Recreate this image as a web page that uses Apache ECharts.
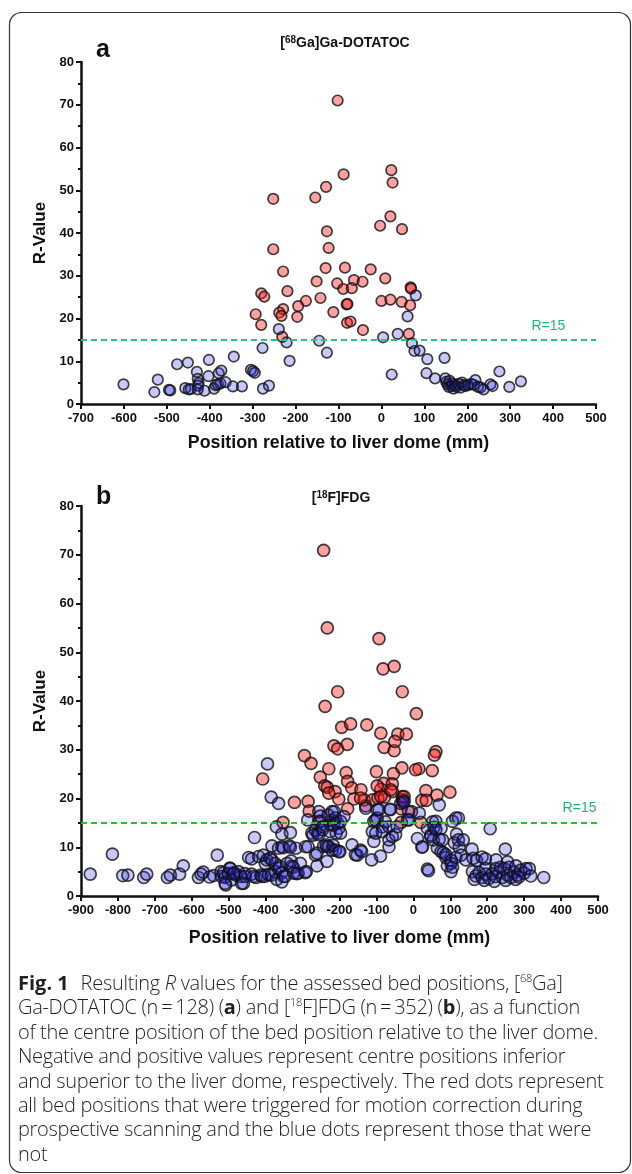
<!DOCTYPE html>
<html><head><meta charset="utf-8">
<script src="https://cdn.jsdelivr.net/npm/echarts@6/dist/echarts.min.js"></script>
<style>
html,body{margin:0;padding:0;background:#fff;}
#chart{width:632px;height:1174px;position:absolute;left:0;top:0;}
#cap{position:absolute;left:18px;top:971px;font-family:'Open Sans',sans-serif;font-size:20px;font-weight:300;line-height:24.4px;color:#231f20;letter-spacing:-0.3px;white-space:nowrap;}
#cap sup{font-size:11px;vertical-align:top;line-height:1;position:relative;top:1px}
#cap b{font-weight:700}
#cap b.fig{letter-spacing:0;margin-right:7px}
</style></head><body>
<div id="chart"></div>
<div id="cap"><b class="fig">Fig. 1</b> Resulting <i>R</i> values for the assessed bed positions, [<sup>68</sup>Ga]<br>Ga-DOTATOC (n&#8201;=&#8201;128) (<b>a</b>) and [<sup>18</sup>F]FDG (n&#8201;=&#8201;352) (<b>b</b>), as a function<br>of the centre position of the bed position relative to the liver dome.<br>Negative and positive values represent centre positions inferior<br>and superior to the liver dome, respectively. The red dots represent<br>all bed positions that were triggered for motion correction during<br>prospective scanning and the blue dots represent those that were<br>not</div>
<script>
// ---------- data ----------
const threshold = 15;
const yTicks = [0, 10, 20, 30, 40, 50, 60, 70, 80];
const xRangeA = [-700, 500];
const xRangeB = [-900, 500];

// Panel a: [68Ga]Ga-DOTATOC  [position (mm), R-value]
const aRed = [[-102,71.0],[-88,53.7],[23,54.7],[26,51.8],[-129,50.8],[-154,48.3],[-252,48.0],[21,43.9],[-3,41.7],[48,40.9],
[-127,40.4],[-123,36.5],[-252,36.2],[-229,31.0],[-130,31.8],[-85,31.9],[-25,31.5],[9,29.4],[-151,28.7],[-103,28.2],
[-64,29.0],[-44,28.6],[-89,26.9],[-69,27.1],[68,27.3],[69,27.0],[-280,25.9],[-273,25.1],[-219,26.4],[-176,24.1],
[-194,22.9],[-142,24.8],[-81,23.3],[-79,23.4],[0,24.1],[21,24.4],[47,23.9],[67,23.1],[-229,22.2],[-238,21.4],
[-233,20.6],[-293,21.0],[-196,20.4],[-112,21.5],[-280,18.5],[-80,19.0],[-72,19.3],[-43,17.3],[-231,15.7],[64,16.4]];
const aBlue = [[-601,4.6],[-529,2.8],[-521,5.7],[-495,3.3],[-492,3.2],[-476,9.3],[-451,9.7],[-457,3.7],[-449,3.4],[-444,3.5],
[-430,7.5],[-428,5.9],[-426,4.9],[-427,4.3],[-428,3.4],[-412,3.1],[-402,10.3],[-403,6.5],[-390,3.6],[-386,4.4],
[-381,4.6],[-379,7.2],[-373,7.8],[-375,4.8],[-363,5.1],[-344,11.1],[-346,4.1],[-325,4.1],[-304,8.0],[-299,7.7],
[-295,7.3],[-277,13.1],[-276,3.6],[-262,4.3],[-239,17.5],[-221,14.4],[-214,10.1],[-145,14.8],[-127,12.0],
[4,15.6],[38,16.4],[24,6.9],[80,25.4],[61,20.5],[71,14.2],[77,12.4],[89,12.5],[107,10.5],[105,7.2],
[125,6.0],[147,10.8],[149,6.0],[151,5.2],[154,4.6],[157,4.0],[159,5.4],[163,4.2],[165,4.8],[168,3.6],[171,4.4],
[175,4.0],[180,4.7],[184,3.8],[188,5.0],[192,4.4],[196,4.2],[202,4.4],[209,4.7],[215,4.5],[219,5.6],
[225,4.0],[231,3.9],[238,3.4],[254,4.6],[259,4.2],[275,7.6],[298,4.0],[325,5.3]];

// Panel b: [18F]FDG  [position (mm), R-value]
const bRed = [[-243,70.9],[-233,55.0],[-93,52.8],[-82,46.6],[-52,47.1],[-205,41.9],[-30,41.9],[-239,38.9],[8,37.4],[-194,34.6],
[-170,35.3],[-126,35.1],[-88,33.4],[-42,33.2],[-19,33.2],[-215,30.8],[-205,30.2],[-179,31.1],[-79,30.5],[-52,29.8],
[-50,31.7],[61,29.6],[57,28.9],[-295,28.8],[-277,27.2],[-408,24.0],[-229,26.1],[-182,25.3],[-178,23.5],[-252,24.4],
[-100,25.5],[-54,25.1],[-31,26.3],[15,26.1],[51,25.7],[-240,22.6],[-233,22.3],[-167,22.2],[-142,21.8],[-80,23.1],
[-57,23.0],[-88,21.9],[-57,21.4],[34,21.6],[64,20.7],[99,21.3],[-212,21.4],[-202,19.9],[-161,19.9],[-133,19.7],
[-110,19.7],[-96,20.1],[-78,20.3],[-30,20.4],[23,19.6],[35,19.6],[-322,19.2],[-285,19.4],[-282,17.4],[-178,17.9],
[-129,18.5],[-33,17.9],[-29,19.7],[-5,17.3],[-353,15.1],[-256,15.3],[-219,15.5],[-33,15.1],[20,15.1],[-98,22.6],
[6,25.9],[-88,20.4],[-25,20.4],[-143,20.1],[-61,21.8],[-229,21.1]];
const bBlue = [[-875,4.5],[-815,8.6],[-787,4.2],[-773,4.3],[-730,3.8],[-722,4.5],[-666,3.8],[-658,4.3],[-633,4.5],[-623,6.2],
[-582,3.8],[-575,4.5],[-569,4.9],[-552,3.9],[-541,4.2],[-531,8.4],
[-521,5.0],[-519,4.0],[-514,4.8],[-510,3.8],[-508,2.3],[-501,4.6],[-497,5.7],[-492,3.3],[-485,4.8],[-479,4.3],
[-474,5.0],[-467,4.0],[-460,2.6],[-456,4.6],[-510,2.6],[-496,5.6],[-487,4.6],[-465,2.6],[-455,4.0],
[-446,7.9],[-438,7.6],[-438,4.5],[-430,12.0],[-426,3.8],[-433,4.0],[-419,8.1],[-413,4.3],[-410,4.0],[-406,8.4],
[-403,4.0],[-401,6.7],[-397,7.4],[-395,27.1],[-392,4.4],[-388,7.7],[-385,20.3],[-385,4.3],[-383,10.3],[-383,7.4],
[-374,6.7],[-374,5.0],[-371,14.2],[-370,3.4],[-365,19.0],[-365,9.8],[-365,5.7],[-362,6.1],[-356,12.7],[-356,10.1],
[-356,4.8],[-356,2.9],[-352,9.9],[-351,4.0],[-347,4.0],[-342,6.7],[-336,10.3],[-333,13.0],[-333,10.0],[-331,7.2],
[-329,6.1],[-325,5.9],[-324,4.7],[-318,9.8],[-316,4.6],[-312,4.7],[-306,6.7],
[-293,4.8],[-292,10.1],[-290,5.0],[-286,15.6],[-285,10.1],[-275,12.9],[-272,12.5],[-265,8.4],[-265,13.5],[-261,6.2],
[-261,8.8],[-259,12.9],[-256,17.3],[-256,12.6],[-252,16.4],[-250,15.3],[-246,13.6],[-245,14.2],[-243,10.2],[-234,10.1],
[-234,7.1],[-236,10.5],[-231,16.6],[-229,10.2],[-225,13.2],[-224,14.6],[-220,17.3],[-220,9.4],[-217,10.4],[-214,17.3],
[-216,14.6],[-211,16.0],[-211,9.4],[-209,12.9],[-205,14.9],[-202,9.1],[-202,13.9],[-199,9.1],[-197,12.9],[-197,15.3],
[-188,16.3],
[-166,10.5],[-157,8.5],[-152,8.4],[-143,9.4],[-140,9.1],[-129,18.0],[-113,7.4],[-111,13.2],[-107,11.2],[-107,15.3],
[-102,12.9],[-102,15.6],[-98,17.7],[-98,16.0],[-93,17.7],[-89,8.2],[-84,14.2],[-84,13.2],[-76,15.2],[-66,10.1],
[-66,11.5],[-66,14.2],[-64,17.8],[-62,17.7],[-57,12.2],[-48,12.6],[-44,14.2],[-34,19.0],[-28,19.2],[-25,19.4],
[-16,15.6],[-13,17.3],[-12,15.6],
[11,11.8],[16,17.0],[23,10.0],[25,10.1],[38,5.5],[38,13.9],[41,5.2],[47,12.2],[47,12.5],[52,15.2],
[54,11.5],[56,14.1],[61,15.3],[61,13.6],[65,9.8],[70,18.7],[70,11.6],[75,13.9],[75,9.1],[79,11.5],
[81,8.9],[88,7.9],[88,8.5],[92,6.2],[102,6.7],[102,5.0],[103,7.3],[106,15.3],[106,5.9],[111,10.9],
[115,16.0],[115,7.9],[117,12.7],[122,11.5],[122,16.0],[124,10.0],[129,8.4],[135,11.5],[142,7.4],
[159,9.6],[160,5.0],[162,7.7],[165,3.4],[169,4.1],[171,7.3],[178,4.8],[186,8.0],[186,3.8],[192,3.2],
[195,7.6],[196,4.5],[196,5.6],[205,3.6],[208,13.8],[214,4.6],[219,3.0],[223,4.0],[223,5.6],[224,7.4],
[232,4.8],[236,5.9],[241,3.8],[246,5.6],[249,9.6],[250,3.2],[255,7.0],[255,4.3],[259,5.9],[264,3.8],
[273,4.9],[277,3.4],[278,6.2],[282,4.3],[286,3.9],[291,5.3],[300,4.7],[305,5.6],[314,5.6],[318,4.1],[353,3.8]];

// ---------- chart ----------
const FONT = '"Liberation Sans", Arial, sans-serif';
const chart = echarts.init(document.getElementById('chart'), null, {renderer: 'canvas'});

function xAxis(idx, range, gap) {
  return {
    type: 'value', gridIndex: idx, min: range[0], max: range[1], interval: 100,
    name: 'Position relative to liver dome (mm)', nameLocation: 'middle', nameGap: gap,
    nameTextStyle: {fontFamily: FONT, fontWeight: 'bold', fontSize: 17.8, color: '#111'},
    axisLine: {show: true, onZero: false, lineStyle: {color: '#111', width: 2.5}},
    axisTick: {show: true, length: 5, lineStyle: {color: '#111', width: 2}},
    axisLabel: {fontFamily: FONT, fontWeight: 'bold', fontSize: 13, color: '#111', margin: 8},
    splitLine: {show: false}
  };
}
function yAxis(idx) {
  return {
    type: 'value', gridIndex: idx, min: yTicks[0], max: yTicks[yTicks.length - 1], interval: 10,
    name: 'R-Value', nameLocation: 'middle', nameGap: 31, nameRotate: 90,
    nameTextStyle: {fontFamily: FONT, fontWeight: 'bold', fontSize: 17, color: '#111'},
    axisLine: {show: true, onZero: false, lineStyle: {color: '#111', width: 2.5}},
    axisTick: {show: true, length: 5, lineStyle: {color: '#111', width: 2}},
    minorTick: {show: true, splitNumber: 2, length: 3, lineStyle: {color: '#111', width: 2}},
    axisLabel: {fontFamily: FONT, fontWeight: 'bold', fontSize: 13, color: '#111', margin: 7},
    splitLine: {show: false}
  };
}
function scatter(idx, data, color, size, extra) {
  return Object.assign({
    type: 'scatter', xAxisIndex: idx, yAxisIndex: idx, data: data,
    symbol: 'circle', symbolSize: size, silent: true,
    itemStyle: {color: color, borderColor: '#111', borderWidth: 1.7}
  }, extra || {});
}
function thresholdLine(lineColor, labelColor, labelCoord) {
  return {
    markLine: {
      silent: true, symbol: 'none', animation: false,
      lineStyle: {type: [6, 4], color: lineColor, width: 2},
      label: {show: false},
      data: [{yAxis: threshold}]
    },
    markPoint: {
      silent: true, animation: false,
      data: [{coord: labelCoord, symbol: 'circle', symbolSize: 0,
        label: {show: true, position: 'inside', formatter: 'R=' + threshold,
          color: labelColor, fontFamily: FONT, fontSize: 14}}]
    }
  };
}
const titleStyle = {
  fontFamily: FONT, fontWeight: 'bold', fontSize: 14, color: '#111', lineHeight: 17,
  rich: {sup: {fontFamily: FONT, fontWeight: 'bold', fontSize: 10, color: '#111', lineHeight: 10, verticalAlign: 'top'}}
};
const BLUE = 'rgba(30,30,230,0.30)';
const RED = 'rgba(255,20,20,0.50)';

chart.setOption({
  animation: false,
  backgroundColor: '#fff',
  title: [
    {text: '[{sup|68}Ga]Ga-DOTATOC', left: 340, top: 30, textAlign: 'center', textStyle: titleStyle},
    {text: '[{sup|18}F]FDG', left: 336, top: 485, textAlign: 'center', textStyle: titleStyle}
  ],
  grid: [
    {left: 81, top: 62, width: 515, height: 342, containLabel: false},
    {left: 81, top: 506, width: 517, height: 390, containLabel: false}
  ],
  xAxis: [xAxis(0, xRangeA, 30), xAxis(1, xRangeB, 33)],
  yAxis: [yAxis(0), yAxis(1)],
  series: [
    scatter(0, aRed, RED, 10.5, thresholdLine('#1fc77f', '#1fb577', [389, 18.2])),
    scatter(0, aBlue, BLUE, 10.5),
    scatter(1, bRed, RED, 12, thresholdLine('#33bb33', '#22b070', [450, 18.0])),
    scatter(1, bBlue, BLUE, 12)
  ],
  graphic: [
    {type: 'rect', shape: {x: 9.5, y: 12.5, width: 621, height: 1160, r: 12},
     style: {fill: 'none', stroke: '#333', lineWidth: 1.2}, silent: true},
    {type: 'text', x: 96, y: 50, style: {text: 'a', font: 'bold 25px ' + FONT, fill: '#111', verticalAlign: 'middle'}},
    {type: 'text', x: 96, y: 497, style: {text: 'b', font: 'bold 25px ' + FONT, fill: '#111', verticalAlign: 'middle'}}
  ]
});
</script>
</body></html>
